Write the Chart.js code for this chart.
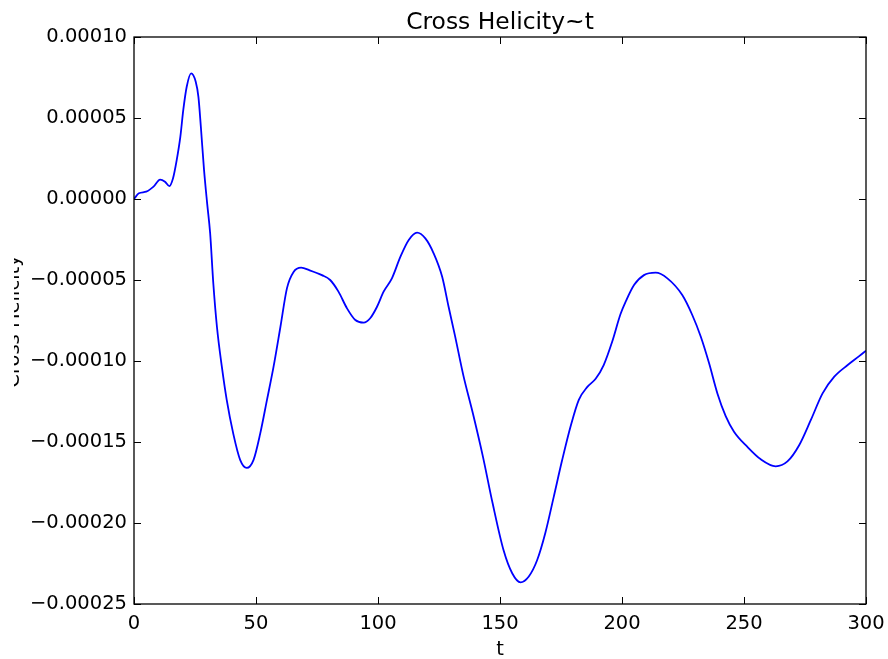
<!DOCTYPE html>
<html>
<head>
<meta charset="utf-8">
<title>Cross Helicity~t</title>
<script src="https://cdn.jsdelivr.net/npm/chart.js@4.4.1/dist/chart.umd.min.js"></script>
<style>
    body { margin: 0; background: #ffffff; }
    #helicityChart { display: block; }
</style>
</head>
<body>
<canvas id="helicityChart" width="888" height="659"></canvas>
<script>
// Time samples and cross helicity (in units of 1e-5).
const times = [
    0, 2, 5, 8, 10.7, 12.7, 14.5, 16, 17.5, 19, 20.2, 21.6, 23.4, 25.3, 26.4, 27.4,
    28.7, 30, 31.2, 32.5, 34, 36, 38, 40.7, 43.5, 46.2, 49, 51.7, 54.5, 57.2, 60,
    62.7, 65.4, 68.5, 72, 77, 80.4, 83.8, 87.3, 90.7, 94.1, 96.8, 99.6, 102.3, 105.7,
    109.2, 112.6, 116, 119.4, 122.8, 126.3, 129, 131.5, 135, 139, 143, 147, 151.5,
    155, 158.4, 161.8, 165.2, 168.6, 172, 175.5, 179, 182.3, 185.8, 189.2, 192.5,
    196, 199.4, 201.5, 205, 209, 213.8, 218.6, 224.7, 228.8, 232.3, 235.7, 239.1,
    242.5, 245.9, 251.4, 256.9, 263, 267.8, 272.6, 277.4, 282.2, 287, 292.5, 297.2, 300
];
const helicityE5 = [
    0, 0.35, 0.45, 0.76, 1.2, 1.07, 0.8, 1.28, 2.4, 3.85, 5.5, 6.93, 7.76, 7.24, 6.3, 4.46,
    1.8, -0.3, -2.1, -5.2, -7.9, -10.35, -12.4, -14.5, -16.1, -16.6, -16.1, -14.5, -12.4, -10.35, -7.9,
    -5.5, -4.5, -4.24, -4.4, -4.7, -5.0, -5.72, -6.75, -7.47, -7.63, -7.36, -6.65, -5.72, -4.9,
    -3.56, -2.53, -2.08, -2.43, -3.35, -4.8, -6.7, -8.4, -10.9, -13.3, -15.9, -18.8, -21.7,
    -23.1, -23.66, -23.3, -22.3, -20.6, -18.4, -16.1, -14.0, -12.4, -11.6, -11.1, -10.25,
    -8.8, -7.1, -6.34, -5.3, -4.7, -4.55, -4.9, -5.93, -7.16, -8.5, -10.14, -12.0,
    -13.4, -14.36, -15.3, -16.07, -16.5, -16.2, -15.2, -13.64, -12.0, -10.97, -10.25, -9.7, -9.36
];
const xTicks = [0, 50, 100, 150, 200, 250, 300];
const yTicks = [0.0001, 0.00005, 0, -0.00005, -0.0001, -0.00015, -0.0002, -0.00025];

const FONT = 'DejaVu Sans';
const points = times.map((t, i) => ({ x: t, y: helicityE5[i] * 1e-5 }));

function formatY(v) {
    if (Math.abs(v) < 1e-12) v = 0;
    return v.toFixed(5).replace('-', '\u2212');
}

// Frame, inward tick marks, title and the y label.
const axesDecor = {
    id: 'axesDecor',
    afterDraw(chart) {
        const ctx = chart.ctx;
        const a = chart.chartArea;
        const xs = chart.scales.x, ys = chart.scales.y;
        const len = 7;
        ctx.save();
        ctx.strokeStyle = '#000';
        ctx.lineWidth = 1;
        ctx.beginPath();
        xTicks.forEach(v => {
            const px = Math.round(xs.getPixelForValue(v)) + 0.5;
            ctx.moveTo(px, a.bottom); ctx.lineTo(px, a.bottom - len);
            ctx.moveTo(px, a.top); ctx.lineTo(px, a.top + len);
        });
        yTicks.forEach(v => {
            const py = Math.round(ys.getPixelForValue(v)) + 0.5;
            ctx.moveTo(a.left, py); ctx.lineTo(a.left + len, py);
            ctx.moveTo(a.right, py); ctx.lineTo(a.right - len, py);
        });
        ctx.stroke();
        ctx.lineWidth = 1.3;
        ctx.strokeRect(a.left, a.top, a.right - a.left, a.bottom - a.top);

        ctx.fillStyle = '#000';
        ctx.font = '23.4px "' + FONT + '"';
        ctx.textAlign = 'center';
        ctx.textBaseline = 'alphabetic';
        ctx.fillText('Cross Helicity~t', (a.left + a.right) / 2, 29);

        // y label sits partly past the left edge
        ctx.beginPath();
        ctx.rect(14, 0, chart.width, chart.height);
        ctx.clip();
        ctx.translate(18.5, (a.top + a.bottom) / 2 + 1);
        ctx.rotate(-Math.PI / 2);
        ctx.font = '19.5px "' + FONT + '"';
        ctx.fillText('Cross Helicity', 0, 0);
        ctx.restore();
    }
};

const chart = document.getElementById('helicityChart');
new Chart(chart, {
    type: 'line',
    data: {
        datasets: [{
            label: 'Cross Helicity',
            data: points,
            borderColor: 'rgb(0, 0, 255)',
            borderWidth: 1.8,
            pointRadius: 0,
            fill: false,
            cubicInterpolationMode: 'monotone'
        }]
    },
    options: {
        responsive: false,
        animation: false,
        devicePixelRatio: 1,
        layout: {
            padding: { top: 37, right: 22, left: 0, bottom: 0 }
        },
        scales: {
            x: {
                type: 'linear',
                min: 0,
                max: 300,
                grid: { display: false, drawTicks: false },
                border: { display: false },
                ticks: {
                    stepSize: 50,
                    autoSkip: false,
                    maxRotation: 0,
                    padding: 8,
                    color: '#000',
                    font: { family: FONT, size: 19.5 }
                },
                title: {
                    display: true,
                    text: 't',
                    color: '#000',
                    padding: { top: 4, bottom: -3 },
                    font: { family: FONT, size: 19.5 }
                },
                afterFit: (scale) => {
                    scale.height = 55;
                    // the end labels may hang past the plot edges
                    scale.paddingLeft = 0;
                    scale.paddingRight = 0;
                }
            },
            y: {
                min: -0.00025,
                max: 0.0001,
                grid: { display: false, drawTicks: false },
                border: { display: false },
                ticks: {
                    stepSize: 0.00005,
                    autoSkip: false,
                    padding: 7,
                    color: '#000',
                    font: { family: FONT, size: 19.5 },
                    callback: (v) => formatY(v)
                },
                afterFit: (scale) => {
                    scale.width = 134;
                    scale.paddingTop = 0;
                    scale.paddingBottom = 0;
                }
            }
        },
        plugins: {
            legend: { display: false },
            tooltip: { enabled: false },
            title: { display: false }
        }
    },
    plugins: [axesDecor]
});
</script>
</body>
</html>
